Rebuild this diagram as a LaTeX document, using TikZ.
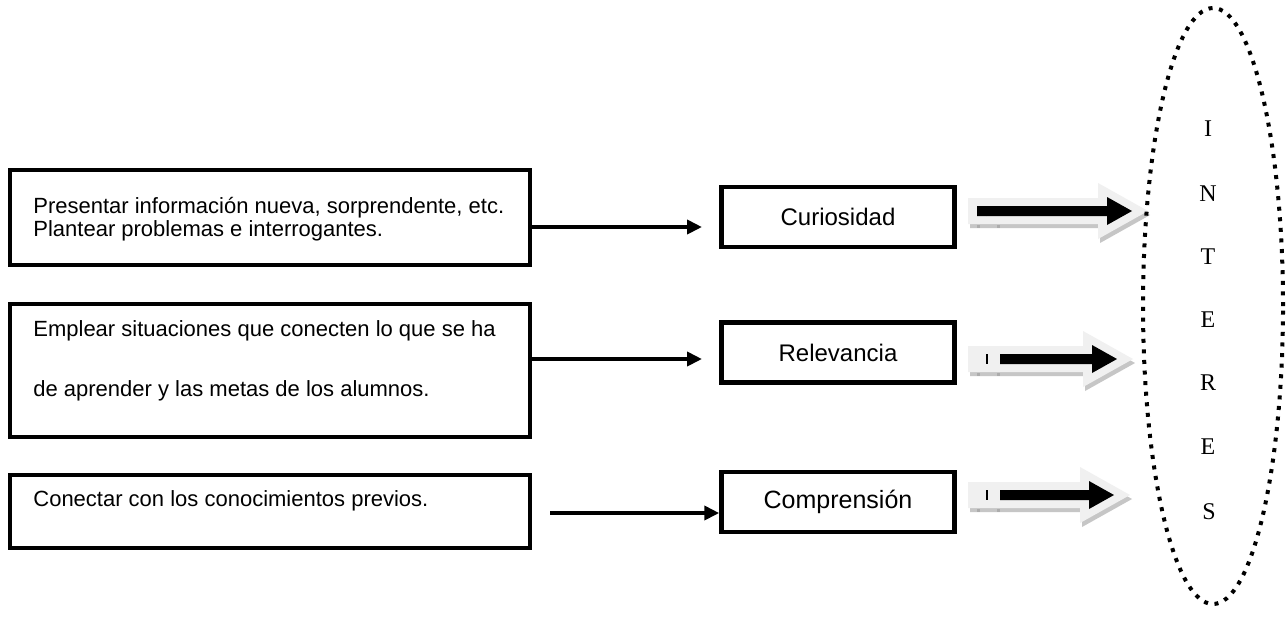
\documentclass[tikz,border=0pt]{standalone}
\usepackage{fontspec}
\setmainfont{Liberation Serif}
\newfontfamily\arialf{Liberation Sans}
\usetikzlibrary{arrows.meta,shapes.geometric}
\begin{document}
\begin{tikzpicture}[x=0.5pt,y=-0.5pt,
  bigbox/.style={draw, line width=2.25pt, minimum width=260pt, inner sep=0pt},
  midbox/.style={draw, line width=2.25pt, minimum width=116.5pt, minimum height=30pt, inner sep=0pt, font=\arialf\fontsize{12}{14}\selectfont},
  boxtext/.style={anchor=west, align=left, inner sep=0pt},
  conn/.style={line width=2pt, -{Triangle[length=7.5pt,width=7pt]}},
  letter/.style={font=\fontsize{12}{14}\selectfont, inner sep=0pt},
  pics/fatarrow/.style n args={3}{code={
    % shadow
    \fill[gray!45] (2,-9) -- ({#1-48},-9) -- ({#1-48},-24) -- ({#1+2},4) -- ({#1-48},32) -- ({#1-48},17) -- (2,17) -- cycle;
    % light body
    \fill[gray!12] (0,-13) -- ({#1-50},-13) -- ({#1-50},-28) -- (#1,0) -- ({#1-50},28) -- ({#1-50},13) -- (0,13) -- cycle;
    % shadow ticks
    \fill[gray!65] (9,14) rectangle (12,17);
    \fill[gray!65] (29,14) rectangle (32,17);
    % black arrow
    \fill[black] (#2,-5) -- ({#1-41},-5) -- ({#1-41},-14) -- ({#1-16},0) -- ({#1-41},14) -- ({#1-41},5) -- (#2,5) -- cycle;
    % small tick
    \fill[black] (18,-5) rectangle ({18+#3},5);
  }},
]
\useasboundingbox[fill=white] (0,0) rectangle (1288,628);

% left boxes
\node[bigbox, minimum height=47.5pt] (b1) at (270,217.5) {};
\node[bigbox, minimum height=66.5pt] (b2) at (270,370.5) {};
\node[bigbox, minimum height=36.5pt] (b3) at (270,511.5) {};

\node[boxtext, font=\arialf\fontsize{11}{11.5}\selectfont] (t1) at (33,219)
  {Presentar información nueva, sorprendente, etc.\\Plantear problemas e interrogantes.};
\node[boxtext, font=\arialf\fontsize{11}{30}\selectfont] (t2) at (33,361)
  {Emplear situaciones que conecten lo que se ha\\de aprender y las metas de los alumnos.};
\node[boxtext, font=\arialf\fontsize{11}{13}\selectfont] (t3) at (33,501)
  {Conectar con los conocimientos previos.};

% middle boxes
\node[midbox] (m1) at (838,217) {Curiosidad};
\node[midbox] (m2) at (838,352.5) {Relevancia};
\node[midbox, font=\arialf\fontsize{12.5}{14}\selectfont] (m3) at (838,502) {Comprensión};

% connectors
\coordinate (e1) at (702,227);
\coordinate (e2) at (702,359);
\coordinate (s3) at (550,513);
\draw[conn] (b1.east |- e1) -- (e1);
\draw[conn] (b2.east |- e2) -- (e2);
\draw[conn] (s3) -- (m3.west |- s3);

% fat arrows
\pic (f1) at (968,211) {fatarrow={180}{9}{0}};
\pic (f2) at (968,359) {fatarrow={165}{32}{2}};
\pic (f3) at (968,495) {fatarrow={162}{32}{2}};

% ellipse
\node[draw, ellipse, line width=2pt, dash pattern=on 2pt off 3.3pt,
      minimum width=70pt, minimum height=298pt, inner sep=0pt] (intr) at (1213,306) {};

\node[letter] (l1) at (1208,129) {I};
\node[letter] (l2) at (1208,194) {N};
\node[letter] (l3) at (1208,257) {T};
\node[letter] (l4) at (1208,320) {E};
\node[letter] (l5) at (1208,383) {R};
\node[letter] (l6) at (1208,447) {E};
\node[letter] (l7) at (1209,512) {S};
\end{tikzpicture}
\end{document}
